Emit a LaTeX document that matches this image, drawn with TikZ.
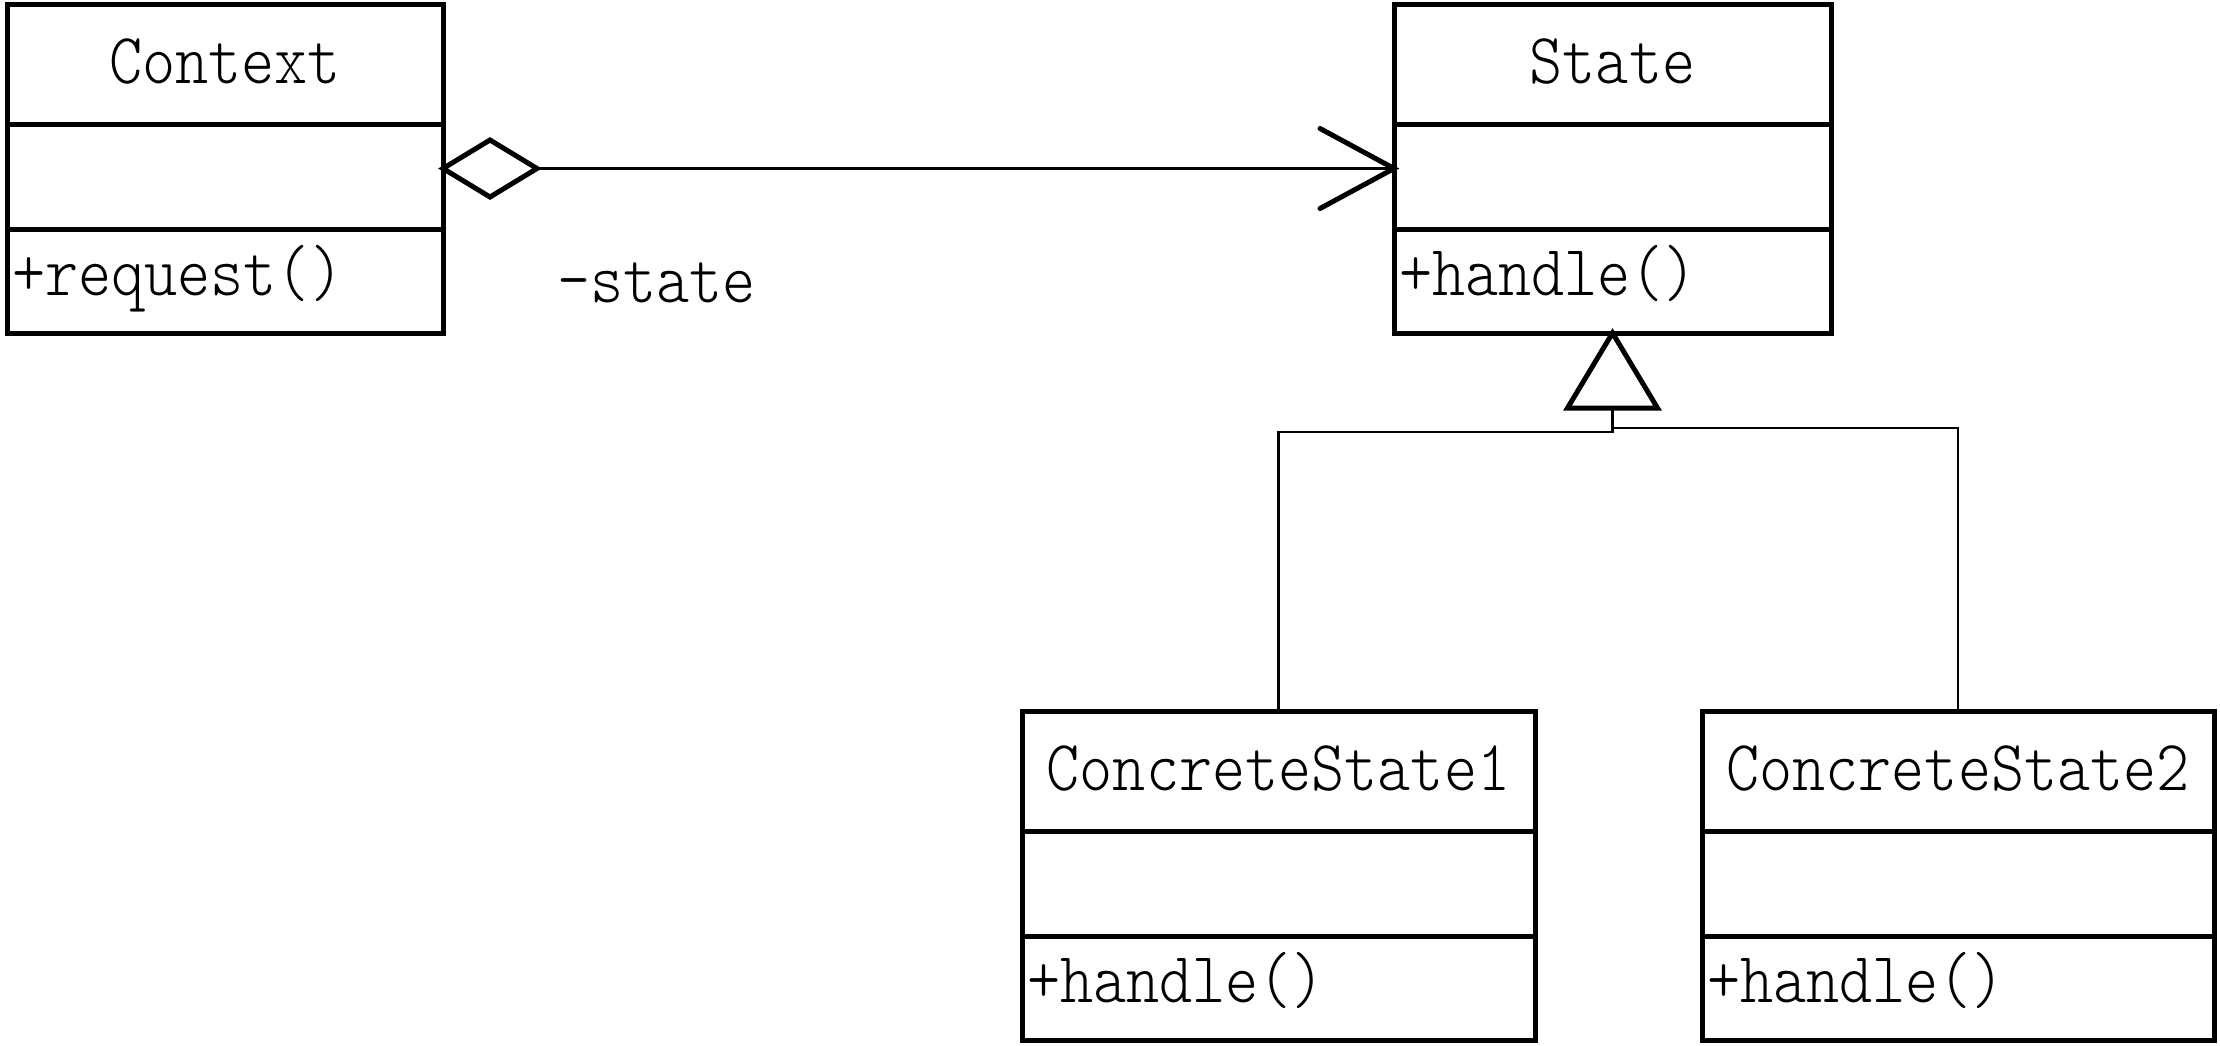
\documentclass[tikz,border=0pt]{standalone}
\usepackage{fontspec}
\newfontfamily\umlfont{lmmonolt10-regular.otf}[FakeStretch=0.876]
\begin{document}
\begin{tikzpicture}[x=0.5pt,y=-0.5pt,
  umlbox/.style={draw, line width=2.5pt, rectangle, inner sep=0pt, outer sep=0pt, anchor=north west, minimum height=164.5pt},
  divider/.style={line width=2.5pt},
  lbl/.style={inner sep=0pt, outer sep=0pt, font=\umlfont\fontsize{36pt}{38pt}\selectfont},
  conn/.style={line width=1.3pt},
  tipline/.style={line width=2.5pt, line cap=round, line join=miter}]
\useasboundingbox (0,0) rectangle (2220,1045);
\node[umlbox, minimum width=218pt] (ctx) at (7,4) {};
\node[umlbox, minimum width=218.5pt] (st) at (1394,4) {};
\node[umlbox, minimum width=256.5pt] (cs1) at (1022,711) {};
\node[umlbox, minimum width=256pt] (cs2) at (1702,711) {};
\foreach \n in {ctx,st,cs1,cs2}{
  \draw[divider] ([yshift=-60pt]\n.north west) -- ([yshift=-60pt]\n.north east);
  \draw[divider] ([yshift=-112.5pt]\n.north west) -- ([yshift=-112.5pt]\n.north east);
}
\node[lbl, anchor=base] (ctxT) at ([yshift=-39.5pt]ctx.north) {Context};
\node[lbl, anchor=base] (stT) at ([yshift=-39.5pt]st.north) {State};
\node[lbl, anchor=base] (cs1T) at ([yshift=-39.5pt]cs1.north) {ConcreteState1};
\node[lbl, anchor=base] (cs2T) at ([yshift=-39.5pt]cs2.north) {ConcreteState2};
\node[lbl, anchor=base west] (ctxM) at ([xshift=2.5pt,yshift=-145.5pt]ctx.north west) {+request()};
\node[lbl, anchor=base west] (stM) at ([xshift=2.5pt,yshift=-145.5pt]st.north west) {+handle()};
\node[lbl, anchor=base west] (cs1M) at ([xshift=2.5pt,yshift=-145.5pt]cs1.north west) {+handle()};
\node[lbl, anchor=base west] (cs2M) at ([xshift=2.5pt,yshift=-145.5pt]cs2.north west) {+handle()};
% aggregation
\draw[tipline, fill=white] (ctx.east) -- ++(47,-28.5) -- ++(47,28.5) coordinate (dtip) -- ++(-47,28.5) -- cycle;
\draw[conn] (dtip) -- (st.west);
\draw[tipline] ([xshift=-37pt,yshift=20pt]st.west) -- (st.west) -- ([xshift=-37pt,yshift=-20pt]st.west);
\node[lbl, anchor=base west] (role) at (557,302) {-state};
% generalization
\draw[tipline] (st.south) -- ++(45,75) -- ++(-90,0) -- cycle;
\coordinate (tb) at ([yshift=-37.5pt]st.south);
\draw[conn] (tb) -- ++(0,24) -| (cs1.north);
\draw[conn] (tb) ++(0,20) -| (cs2.north);
\end{tikzpicture}
\end{document}
